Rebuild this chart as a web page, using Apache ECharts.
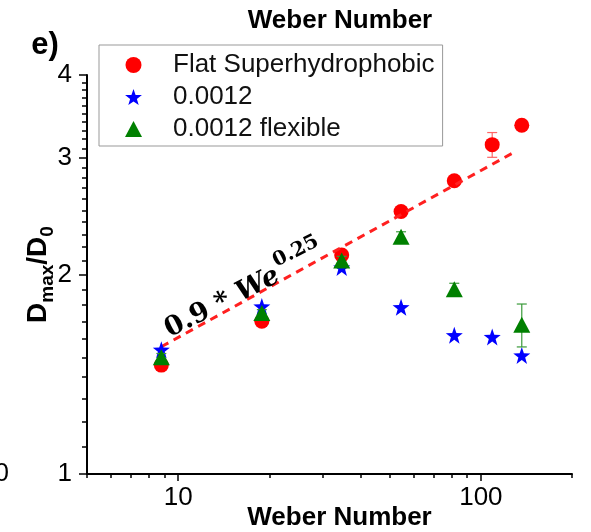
<!DOCTYPE html>
<html>
<head>
<meta charset="utf-8">
<script src="https://cdn.jsdelivr.net/npm/echarts@6/dist/echarts.min.js"></script>
<style>
  html, body { margin: 0; padding: 0; background: #fff; }
  #chart { width: 591px; height: 532px; }
</style>
</head>
<body>
<div id="chart"></div>
<script>
// flat superhydrophobic surface
var weFlat = [8.8, 18.9, 34.7, 54.5, 81.7, 109, 136.5];
var dFlat = [1.46, 1.70, 2.14, 2.49, 2.77, 3.14, 3.36];
var errFlat = [0.02, 0.03, 0.03, 0.03, 0.04, 0.135, 0.03];

// 0.0012 rigid
var weRigid = [8.8, 18.9, 34.7, 54.5, 81.7, 109, 136.5];
var dRigid = [1.54, 1.79, 2.05, 1.785, 1.62, 1.61, 1.51];

// 0.0012 flexible
var weFlex = [8.8, 18.9, 34.7, 54.5, 81.7, 136.5];
var dFlex = [1.50, 1.75, 2.10, 2.28, 1.90, 1.68];
var errFlex = [0.02, 0.02, 0.03, 0.04, 0.04, 0.125];

// ends of the dashed 0.9*We^0.25 guide
var fitWe = [8.8, 129];
var fitD = [1.556, 3.06];

// tick labels
var xMajor = [10, 100];
var xMinor = [5, 6, 7, 8, 9, 20, 30, 40, 50, 60, 70, 80, 90, 200];
var yMajor = [1, 2, 3, 4];
var yMinor = [1.1, 1.2, 1.3, 1.4, 1.5, 1.6, 1.7, 1.8, 1.9,
              2.1, 2.2, 2.3, 2.4, 2.5, 2.6, 2.7, 2.8, 2.9,
              3.1, 3.2, 3.3, 3.4, 3.5, 3.6, 3.7, 3.8, 3.9];

var STAR = 'path://M0,-10L2.35,-3.24L9.51,-3.09L3.8,1.24L5.88,8.09L0,4L-5.88,8.09L-3.8,1.24L-9.51,-3.09L-2.35,-3.24Z';
var FONT = 'Liberation Sans';

function pairs(xs, ys) {
  return xs.map(function (x, i) { return [x, ys[i]]; });
}
function errRows(xs, ys, es) {
  return xs.map(function (x, i) { return [x, ys[i] - es[i], ys[i] + es[i]]; });
}
function errBar(color) {
  return function (params, api) {
    var lo = api.coord([api.value(0), api.value(1)]);
    var hi = api.coord([api.value(0), api.value(2)]);
    var st = { stroke: color, lineWidth: 1.2 };
    return {
      type: 'group',
      children: [
        { type: 'line', shape: { x1: lo[0], y1: lo[1], x2: hi[0], y2: hi[1] }, style: st },
        { type: 'line', shape: { x1: lo[0] - 5, y1: lo[1], x2: lo[0] + 5, y2: lo[1] }, style: st },
        { type: 'line', shape: { x1: hi[0] - 5, y1: hi[1], x2: hi[0] + 5, y2: hi[1] }, style: st }
      ]
    };
  };
}

var myChart = echarts.init(document.getElementById('chart'));

var axisLine = { lineStyle: { color: '#000', width: 2 } };
var tickStyle = { color: '#000', width: 1.5 };

var option = {
  animation: false,
  grid: { left: 87, right: 19, top: 75, bottom: 58, outerBoundsMode: 'none' },
  legend: {
    orient: 'vertical',
    left: 99,
    top: 45,
    itemWidth: 17,
    itemHeight: 16,
    itemGap: 2,
    padding: [5, 8, 2, 26],
    borderColor: '#999',
    borderWidth: 1,
    textStyle: { fontSize: 26, color: '#111', fontFamily: FONT, lineHeight: 30, padding: [0, 0, 0, 26] },
    data: ['Flat Superhydrophobic', '0.0012', '0.0012 flexible']
  },
  graphic: [
    { type: 'text', x: 340, y: 21, style: { text: 'Weber Number', fontSize: 26, fontWeight: 'bold', fontFamily: FONT, fill: '#000', align: 'center', verticalAlign: 'middle' } },
    { type: 'text', x: 45, y: 45, style: { text: 'e)', fontSize: 31, fontWeight: 'bold', fontFamily: FONT, fill: '#000', align: 'center', verticalAlign: 'middle' } },
    { type: 'text', x: 9, y: 474, style: { text: '0', fontSize: 26, fontFamily: FONT, fill: '#000', align: 'right', verticalAlign: 'middle' } }
  ],
  xAxis: [
    {
      type: 'log', logBase: 10, min: 5, max: 200, position: 'bottom',
      axisLine: axisLine,
      axisTick: { customValues: xMajor, length: 7, lineStyle: tickStyle },
      axisLabel: { customValues: xMajor, color: '#000', fontSize: 26, fontFamily: FONT, margin: 11 },
      splitLine: { show: false },
      name: 'Weber Number', nameLocation: 'middle', nameGap: 31, nameMoveOverlap: false,
      nameTextStyle: { fontSize: 26, fontWeight: 'bold', fontFamily: FONT, color: '#000', padding: [0, 0, 0, 20] }
    },
    {
      type: 'log', logBase: 10, min: 5, max: 200, position: 'bottom',
      axisLine: { show: false },
      axisTick: { customValues: xMinor, length: 4, lineStyle: tickStyle },
      axisLabel: { show: false },
      splitLine: { show: false }
    }
  ],
  yAxis: [
    {
      type: 'log', logBase: 10, min: 1, max: 4, position: 'left',
      axisLine: axisLine,
      axisTick: { customValues: yMajor, length: 8, lineStyle: tickStyle },
      axisLabel: { customValues: yMajor, color: '#000', fontSize: 26, fontFamily: FONT, margin: 15 },
      splitLine: { show: false },
      name: '{d|D}{s|max}{d|/D}{s|0}', nameLocation: 'middle', nameGap: 31, nameMoveOverlap: false,
      nameTextStyle: {
        rich: {
          d: { fontSize: 28, fontWeight: 'bold', fontFamily: FONT, color: '#000', lineHeight: 32, verticalAlign: 'top' },
          s: { fontSize: 19, fontWeight: 'bold', fontFamily: FONT, color: '#000', lineHeight: 20, padding: [14, 0, 0, 0], verticalAlign: 'top' }
        }
      }
    },
    {
      type: 'log', logBase: 10, min: 1, max: 4, position: 'left',
      axisLine: { show: false },
      axisTick: { customValues: yMinor, length: 5, lineStyle: tickStyle },
      axisLabel: { show: false },
      splitLine: { show: false }
    }
  ],
  series: [
    {
      type: 'custom', name: 'errFlat', renderItem: errBar('#ff6666'),
      data: errRows(weFlat, dFlat, errFlat), encode: { x: 0, y: [1, 2] }, z: 1, silent: true
    },
    {
      name: 'Flat Superhydrophobic', type: 'scatter', symbol: 'circle', symbolSize: 15,
      itemStyle: { color: '#ff0000', opacity: 1 }, data: pairs(weFlat, dFlat), z: 2
    },
    {
      name: 'fit', type: 'line', data: pairs(fitWe, fitD), symbol: 'none', z: 3,
      lineStyle: { color: '#ff2020', width: 3, type: [8, 6] },
      markPoint: {
        symbol: 'circle', symbolSize: 0, itemStyle: { color: 'rgba(0,0,0,0)' },
        data: [{
          coord: [16.2, 1.93],
          label: {
            show: true, position: 'inside', rotate: 27,
            formatter: '{a|0.9 * }{b|We}{c|0.25}',
            rich: {
              a: { fontSize: 27, fontWeight: 'bold', fontFamily: 'DejaVu Serif', color: '#000', lineHeight: 30, padding: [9, 0, 0, 0], verticalAlign: 'top' },
              b: { fontSize: 27, fontWeight: 'bold', fontStyle: 'italic', fontFamily: 'DejaVu Serif', color: '#000', lineHeight: 30, padding: [9, 0, 0, 0], verticalAlign: 'top' },
              c: { fontSize: 20, fontWeight: 'bold', fontFamily: 'DejaVu Serif', color: '#000', lineHeight: 22, padding: [0, 0, 0, 2], verticalAlign: 'top' }
            }
          }
        }]
      }
    },
    {
      name: '0.0012', type: 'scatter', symbol: STAR, symbolSize: 17,
      itemStyle: { color: '#0000ff', opacity: 1 }, data: pairs(weRigid, dRigid), z: 4
    },
    {
      type: 'custom', name: 'errFlex', renderItem: errBar('#3a9a3a'),
      data: errRows(weFlex, dFlex, errFlex), encode: { x: 0, y: [1, 2] }, z: 5, silent: true
    },
    {
      name: '0.0012 flexible', type: 'scatter', symbol: 'triangle', symbolSize: [17, 16],
      itemStyle: { color: '#008000', opacity: 1 }, data: pairs(weFlex, dFlex), z: 6
    }
  ]
};

myChart.setOption(option);
</script>
</body>
</html>
